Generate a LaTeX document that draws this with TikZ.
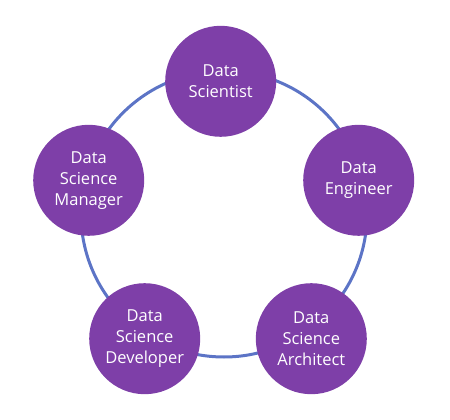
\documentclass[tikz,border=0pt]{standalone}
\usepackage{fontspec}
\setmainfont{Open Sans}
\definecolor{nodefill}{HTML}{7E3FA8}
\definecolor{ringcol}{HTML}{5C74C6}
\begin{document}
\begin{tikzpicture}[x=1pt,y=-1pt,
  role/.style={circle, fill=nodefill, draw=none, minimum size=111pt, inner sep=0pt,
    text=white, align=center, font=\fontsize{16.5}{20.8}\selectfont},
  ring/.style={draw=ringcol, line width=3pt}]
\useasboundingbox (0,0) rectangle (450,420);
\coordinate (c) at (224,214);
\draw[ring] (c) circle[radius=143];
\node[role] (sci) at (220.7,81.3) {Data\\Scientist};
\node[role] (eng) at (358.7,180.3) {Data\\Engineer};
\node[role] (arc) at (311.3,338.7) {Data\\Science\\Architect};
\node[role] (dev) at (144.7,338.7) {Data\\Science\\Developer};
\node[role] (man) at (88.7,180.3) {Data\\Science\\Manager};
\end{tikzpicture}
\end{document}
